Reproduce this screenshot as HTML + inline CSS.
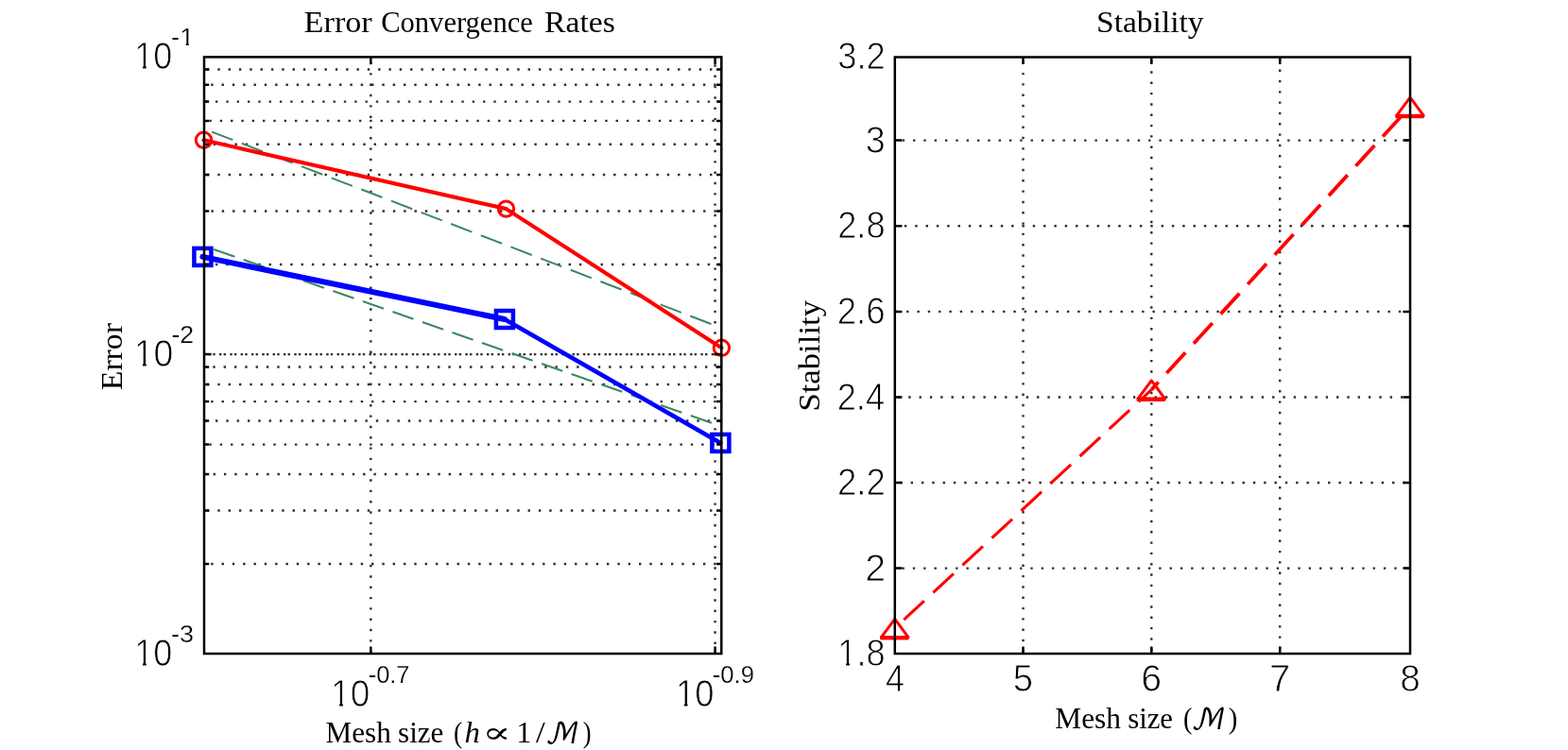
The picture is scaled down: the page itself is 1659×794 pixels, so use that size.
<!DOCTYPE html><html><head><meta charset="utf-8"><title>Error Convergence Rates and Stability</title>
<style>html,body{margin:0;padding:0;background:#fff;width:1659px;height:794px;overflow:hidden}svg{display:block}.s{font-family:"Liberation Sans", "DejaVu Sans", sans-serif}.r{font-family:"Liberation Serif", "DejaVu Serif", serif}.m{font-family:"DejaVu Math TeX Gyre","DejaVu Sans",serif}.p{font-family:"DejaVu Serif","Liberation Serif",serif}</style></head><body>
<svg width="1659" height="794" viewBox="0 0 1659 794">
<rect width="1659" height="794" fill="#fff"/>
<g stroke="#2e2e2e" stroke-width="2.4" stroke-dasharray="2.40 8.92"><line x1="217.2" y1="73.5" x2="762.1" y2="73.5" stroke-dashoffset="-13.10"/><line x1="217.2" y1="89.8" x2="762.1" y2="89.8" stroke-dashoffset="-6.00"/><line x1="217.2" y1="107.6" x2="762.1" y2="107.6" stroke-dashoffset="-10.80"/><line x1="217.2" y1="127.9" x2="762.1" y2="127.9" stroke-dashoffset="-4.20"/><line x1="217.2" y1="152.8" x2="762.1" y2="152.8" stroke-dashoffset="-8.60"/><line x1="217.2" y1="185.0" x2="762.1" y2="185.0" stroke-dashoffset="-13.10"/><line x1="217.2" y1="223.5" x2="762.1" y2="223.5" stroke-dashoffset="-6.20"/><line x1="217.2" y1="280.0" x2="762.1" y2="280.0" stroke-dashoffset="-10.80"/><line x1="217.2" y1="375.1" x2="762.1" y2="375.1" stroke-dashoffset="-14.80"/><line x1="217.2" y1="375.1" x2="762.1" y2="375.1" stroke-dashoffset="-8.10"/><line x1="217.2" y1="388.5" x2="762.1" y2="388.5" stroke-dashoffset="-8.10"/><line x1="217.2" y1="407.0" x2="762.1" y2="407.0" stroke-dashoffset="-13.10"/><line x1="217.2" y1="425.1" x2="762.1" y2="425.1" stroke-dashoffset="-6.00"/><line x1="217.2" y1="445.5" x2="762.1" y2="445.5" stroke-dashoffset="-10.80"/><line x1="217.2" y1="470.6" x2="762.1" y2="470.6" stroke-dashoffset="-4.20"/><line x1="217.2" y1="502.0" x2="762.1" y2="502.0" stroke-dashoffset="-8.40"/><line x1="217.2" y1="540.5" x2="762.1" y2="540.5" stroke-dashoffset="-13.10"/><line x1="217.2" y1="597.0" x2="762.1" y2="597.0" stroke-dashoffset="-6.00"/><line x1="392.3" y1="61.6" x2="392.3" y2="690.8" stroke-dashoffset="-15.60"/><line x1="756.6" y1="61.6" x2="756.6" y2="690.8" stroke-dashoffset="-6.70"/><line x1="948.0" y1="148.6" x2="1490.8" y2="148.6" stroke-dashoffset="-6.70"/><line x1="948.0" y1="239.3" x2="1490.8" y2="239.3" stroke-dashoffset="-8.90"/><line x1="948.0" y1="329.9" x2="1490.8" y2="329.9" stroke-dashoffset="-11.10"/><line x1="948.0" y1="420.5" x2="1490.8" y2="420.5" stroke-dashoffset="-13.20"/><line x1="948.0" y1="511.0" x2="1490.8" y2="511.0" stroke-dashoffset="-15.60"/><line x1="948.0" y1="601.6" x2="1490.8" y2="601.6" stroke-dashoffset="-6.50"/><line x1="1082.5" y1="61.7" x2="1082.5" y2="690.8" stroke-dashoffset="-15.20"/><line x1="1218.3" y1="61.7" x2="1218.3" y2="690.8" stroke-dashoffset="-13.60"/><line x1="1354.2" y1="61.7" x2="1354.2" y2="690.8" stroke-dashoffset="-11.80"/></g>
<g fill="none" stroke="#3c8760" stroke-width="2.0">
<line x1="224.1" y1="139.6" x2="763" y2="347.1" stroke-dasharray="23.8 10.1"/>
<line x1="226.2" y1="264.0" x2="763" y2="451.3" stroke-dasharray="23.4 10.0"/>
</g>
<line x1="215.5" y1="148.3" x2="535.5" y2="221.1" stroke="#f00" stroke-width="4.1" stroke-linecap="round"/>
<line x1="535.5" y1="221.1" x2="763.4" y2="368.3" stroke="#f00" stroke-width="4.1" stroke-linecap="round"/>
<circle cx="215.5" cy="148.3" r="8.2" fill="none" stroke="#f00" stroke-width="3"/>
<circle cx="535.5" cy="221.1" r="8.2" fill="none" stroke="#f00" stroke-width="3"/>
<circle cx="763.4" cy="368.3" r="8.2" fill="none" stroke="#f00" stroke-width="3"/>
<line x1="214.4" y1="271.9" x2="533.9" y2="338.0" stroke="#00f" stroke-width="6.0" stroke-linecap="round"/>
<line x1="533.9" y1="338.0" x2="762.4" y2="468.9" stroke="#00f" stroke-width="4.6" stroke-linecap="round"/>
<rect x="205.4" y="262.9" width="18" height="18" fill="none" stroke="#00f" stroke-width="4.5"/>
<rect x="524.9" y="329.0" width="18" height="18" fill="none" stroke="#00f" stroke-width="4.5"/>
<rect x="753.4" y="459.9" width="18" height="18" fill="none" stroke="#00f" stroke-width="4.5"/>
<line x1="946.8" y1="665.0" x2="1218.3" y2="412.6" stroke="#f00" stroke-width="3.1" stroke-dasharray="29.5 12.9" stroke-dashoffset="29.50"/>
<line x1="1218.3" y1="412.6" x2="1492.0" y2="112.8" stroke="#f00" stroke-width="3.8" stroke-dasharray="29.5 12.9" stroke-dashoffset="400.20"/>
<path d="M946.8 655.3L961.0 674.6L932.4 674.6Z" fill="none" stroke="#f00" stroke-width="3" stroke-linejoin="round"/>
<line x1="931.3" y1="675.2" x2="961.4" y2="675.2" stroke="#f00" stroke-width="4.4"/>
<path d="M1218.3 402.9L1232.5 422.2L1203.9 422.2Z" fill="none" stroke="#f00" stroke-width="3" stroke-linejoin="round"/>
<line x1="1202.8" y1="422.8" x2="1232.9" y2="422.8" stroke="#f00" stroke-width="4.4"/>
<path d="M1492.0 103.1L1506.2 122.4L1477.6 122.4Z" fill="none" stroke="#f00" stroke-width="3" stroke-linejoin="round"/>
<line x1="1476.5" y1="123.0" x2="1506.6" y2="123.0" stroke="#f00" stroke-width="4.4"/>
<rect x="216.0" y="60.4" width="547.3" height="631.6" fill="none" stroke="#000" stroke-width="2.5"/><path d="M392.3 692.0V684.4M392.3 60.4V68.0M756.6 692.0V684.4M756.6 60.4V68.0M216.0 375.1H223.6M763.3 375.1H755.7M216.0 73.5H221.2M763.3 73.5H758.1M216.0 89.8H221.2M763.3 89.8H758.1M216.0 107.6H221.2M763.3 107.6H758.1M216.0 127.9H221.2M763.3 127.9H758.1M216.0 152.8H221.2M763.3 152.8H758.1M216.0 185.0H221.2M763.3 185.0H758.1M216.0 223.5H221.2M763.3 223.5H758.1M216.0 280.0H221.2M763.3 280.0H758.1M216.0 388.5H221.2M763.3 388.5H758.1M216.0 407.0H221.2M763.3 407.0H758.1M216.0 425.1H221.2M763.3 425.1H758.1M216.0 445.5H221.2M763.3 445.5H758.1M216.0 470.6H221.2M763.3 470.6H758.1M216.0 502.0H221.2M763.3 502.0H758.1M216.0 540.5H221.2M763.3 540.5H758.1M216.0 597.0H221.2M763.3 597.0H758.1" stroke="#000" stroke-width="2.5" fill="none"/>
<rect x="946.8" y="60.5" width="545.2" height="631.5" fill="none" stroke="#000" stroke-width="2.5"/><path d="M1082.5 692.0V684.4M1082.5 60.5V68.1M1218.3 692.0V684.4M1218.3 60.5V68.1M1354.2 692.0V684.4M1354.2 60.5V68.1M946.8 148.6H954.4M1492.0 148.6H1484.4M946.8 239.3H954.4M1492.0 239.3H1484.4M946.8 329.9H954.4M1492.0 329.9H1484.4M946.8 420.5H954.4M1492.0 420.5H1484.4M946.8 511.0H954.4M1492.0 511.0H1484.4M946.8 601.6H954.4M1492.0 601.6H1484.4" stroke="#000" stroke-width="2.5" fill="none"/>
<g fill="#000" stroke="#fff" stroke-width="0.9">
<text class="s" x="142.24" y="72.80" font-size="40.11" textLength="40.03" lengthAdjust="spacingAndGlyphs">10</text><rect x="144.71" y="69.20" width="6.29" height="4.60" fill="#fff" stroke="none"/><rect x="154.78" y="69.20" width="6.40" height="4.60" fill="#fff" stroke="none"/>
<text stroke-width="0.25" class="s" x="181.10" y="47.90" font-size="26.20" textLength="24.17" lengthAdjust="spacingAndGlyphs">-1</text><rect x="192.02" y="45.34" width="4.68" height="3.56" fill="#fff" stroke="none"/><rect x="199.70" y="45.34" width="4.83" height="3.56" fill="#fff" stroke="none"/>
<text class="s" x="141.81" y="388.09" font-size="40.82" textLength="41.63" lengthAdjust="spacingAndGlyphs">10</text><rect x="144.37" y="384.44" width="6.55" height="4.65" fill="#fff" stroke="none"/><rect x="154.83" y="384.44" width="6.65" height="4.65" fill="#fff" stroke="none"/>
<text stroke-width="0.25" class="s" x="181.43" y="363.20" font-size="26.20" textLength="23.71" lengthAdjust="spacingAndGlyphs">-2</text>
<text class="s" x="142.24" y="704.60" font-size="40.11" textLength="40.03" lengthAdjust="spacingAndGlyphs">10</text><rect x="144.71" y="701.00" width="6.29" height="4.60" fill="#fff" stroke="none"/><rect x="154.78" y="701.00" width="6.40" height="4.60" fill="#fff" stroke="none"/>
<text stroke-width="0.25" class="s" x="181.11" y="679.84" font-size="26.20" textLength="23.95" lengthAdjust="spacingAndGlyphs">-3</text>
<text class="s" x="350.05" y="747.70" font-size="39.97" textLength="41.17" lengthAdjust="spacingAndGlyphs">10</text><rect x="352.58" y="744.11" width="6.48" height="4.59" fill="#fff" stroke="none"/><rect x="362.93" y="744.11" width="6.58" height="4.59" fill="#fff" stroke="none"/>
<text stroke-width="0.25" class="s" x="389.68" y="722.94" font-size="26.20" textLength="43.79" lengthAdjust="spacingAndGlyphs">-0.7</text>
<text class="s" x="714.91" y="748.00" font-size="40.40" textLength="40.49" lengthAdjust="spacingAndGlyphs">10</text><rect x="717.39" y="744.38" width="6.37" height="4.62" fill="#fff" stroke="none"/><rect x="727.58" y="744.38" width="6.47" height="4.62" fill="#fff" stroke="none"/>
<text stroke-width="0.25" class="s" x="753.77" y="722.94" font-size="26.20" textLength="44.24" lengthAdjust="spacingAndGlyphs">-0.9</text>
<text class="s" x="886.22" y="72.95" font-size="40.25" textLength="50.61" lengthAdjust="spacingAndGlyphs">3.2</text>
<text class="s" x="915.67" y="161.65" font-size="40.25" textLength="20.96" lengthAdjust="spacingAndGlyphs">3</text>
<text class="s" x="886.19" y="252.35" font-size="40.25" textLength="50.38" lengthAdjust="spacingAndGlyphs">2.8</text>
<text class="s" x="885.67" y="342.95" font-size="40.25" textLength="50.91" lengthAdjust="spacingAndGlyphs">2.6</text>
<text class="s" x="885.69" y="433.95" font-size="40.83" textLength="50.37" lengthAdjust="spacingAndGlyphs">2.4</text>
<text class="s" x="885.97" y="524.45" font-size="40.83" textLength="50.86" lengthAdjust="spacingAndGlyphs">2.2</text>
<text class="s" x="915.14" y="615.05" font-size="40.83" textLength="21.83" lengthAdjust="spacingAndGlyphs">2</text>
<text class="s" x="886.33" y="705.05" font-size="40.25" textLength="50.23" lengthAdjust="spacingAndGlyphs">1.8</text><rect x="888.80" y="701.44" width="6.32" height="4.61" fill="#fff" stroke="none"/><rect x="898.91" y="701.44" width="6.42" height="4.61" fill="#fff" stroke="none"/>
<text class="s" x="936.91" y="732.40" font-size="41.42" textLength="20.04" lengthAdjust="spacingAndGlyphs">4</text>
<text class="s" x="1071.87" y="731.99" font-size="40.83" textLength="21.31" lengthAdjust="spacingAndGlyphs">5</text>
<text class="s" x="1207.23" y="732.00" font-size="40.25" textLength="21.86" lengthAdjust="spacingAndGlyphs">6</text>
<text class="s" x="1343.06" y="732.40" font-size="41.42" textLength="22.25" lengthAdjust="spacingAndGlyphs">7</text>
<text class="s" x="1481.23" y="732.00" font-size="40.25" textLength="21.54" lengthAdjust="spacingAndGlyphs">8</text>
</g>
<g fill="#000" stroke="#000" stroke-width="0.0">
<text x="321.64" y="34.40" font-size="30.80" textLength="72.13" lengthAdjust="spacingAndGlyphs" class="r">Error</text>
<text x="403.18" y="34.40" font-size="30.80" textLength="160.64" lengthAdjust="spacingAndGlyphs" class="r">Convergence</text>
<text x="575.96" y="34.40" font-size="30.80" textLength="74.85" lengthAdjust="spacingAndGlyphs" class="r">Rates</text>
<text x="1159.99" y="34.20" font-size="30.80" textLength="113.65" lengthAdjust="spacingAndGlyphs" class="r">Stability</text>
<text x="344.63" y="786.20" font-size="30.80" textLength="69.15" lengthAdjust="spacingAndGlyphs" class="r">Mesh</text>
<text x="421.06" y="786.20" font-size="30.80" textLength="48.32" lengthAdjust="spacingAndGlyphs" class="r">size</text>
<text x="479.94" y="786.20" font-size="30.80" textLength="9.22" lengthAdjust="spacingAndGlyphs" class="r">(</text>
<text x="491.52" y="786.20" font-size="30.80" textLength="16.39" lengthAdjust="spacingAndGlyphs" class="r" font-style="italic">h</text>
<text x="510.55" y="786.20" font-size="30.80" textLength="30.34" lengthAdjust="spacingAndGlyphs" class="p">∝</text>
<text x="546.31" y="786.20" font-size="30.80" textLength="16.24" lengthAdjust="spacingAndGlyphs" class="r">1</text>
<text x="566.90" y="786.20" font-size="30.80" textLength="9.69" lengthAdjust="spacingAndGlyphs" class="r">/</text>
<text x="576.71" y="787.20" font-size="30.80" textLength="36.35" lengthAdjust="spacingAndGlyphs" class="m">ℳ</text>
<text x="616.66" y="786.20" font-size="30.80" textLength="8.78" lengthAdjust="spacingAndGlyphs" class="r">)</text>
<text x="1116.32" y="770.50" font-size="30.80" textLength="69.56" lengthAdjust="spacingAndGlyphs" class="r">Mesh</text>
<text x="1193.17" y="770.50" font-size="30.80" textLength="47.90" lengthAdjust="spacingAndGlyphs" class="r">size</text>
<text x="1252.00" y="770.50" font-size="30.80" textLength="9.48" lengthAdjust="spacingAndGlyphs" class="r">(</text>
<text x="1259.88" y="771.50" font-size="30.80" textLength="36.92" lengthAdjust="spacingAndGlyphs" class="m">ℳ</text>
<text x="1299.68" y="770.50" font-size="30.80" textLength="9.55" lengthAdjust="spacingAndGlyphs" class="r">)</text>
<g transform="translate(128.8 412.3) rotate(-90)"><text x="-0.95" y="0.00" font-size="30.80" textLength="71.21" lengthAdjust="spacingAndGlyphs" class="r">Error</text></g>
<g transform="translate(866.8 433.3) rotate(-90)"><text x="-2.29" y="0.00" font-size="30.80" textLength="117.63" lengthAdjust="spacingAndGlyphs" class="r">Stability</text></g>
</g>
</svg></body></html>
